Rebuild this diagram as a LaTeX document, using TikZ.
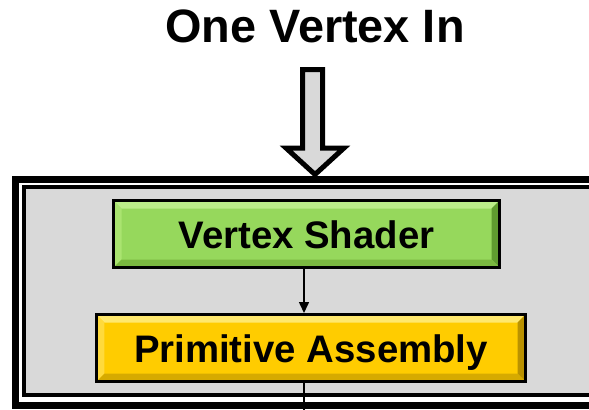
\documentclass[tikz,border=0pt]{standalone}
\usepackage{fontspec}
\setmainfont{Liberation Sans}
\usepackage{tikz}
\usetikzlibrary{positioning,arrows.meta}

\definecolor{panelgray}{RGB}{217,217,217}
\definecolor{vsgreen}{RGB}{150,216,92}
\definecolor{vslight}{RGB}{188,238,138}
\definecolor{vsleft}{RGB}{170,228,112}
\definecolor{vsdark}{RGB}{96,156,48}
\definecolor{vsbottom}{RGB}{122,184,64}
\definecolor{payellow}{RGB}{255,204,0}
\definecolor{palight}{RGB}{255,232,110}
\definecolor{paleft}{RGB}{255,218,60}
\definecolor{padark}{RGB}{186,146,0}
\definecolor{pabottom}{RGB}{214,170,0}

\tikzset{
  stage/.style n args={5}{draw=black, line width=3bp, fill=#1, inner sep=0pt,
    minimum height=67bp, text height=28bp, text depth=0pt,
    font=\fontsize{38.5}{40}\selectfont\bfseries,
    path picture={
      \path (path picture bounding box.north west) coordinate (bnw)
            (path picture bounding box.south east) coordinate (bse);
      \fill[#2] (bnw) -- (bnw -| bse) -- ([shift={(-8bp,-8bp)}]bnw -| bse)
                -- ([shift={(8bp,-8bp)}]bnw) -- cycle;
      \fill[#3] (bnw) -- (bnw |- bse) -- ([shift={(8bp,8bp)}]bnw |- bse)
                -- ([shift={(8bp,-8bp)}]bnw) -- cycle;
      \fill[#4] (bnw -| bse) -- (bse) -- ([shift={(-8bp,8bp)}]bse)
                -- ([shift={(-8bp,-8bp)}]bnw -| bse) -- cycle;
      \fill[#5] (bnw |- bse) -- (bse) -- ([shift={(-8bp,8bp)}]bse)
                -- ([shift={(8bp,8bp)}]bnw |- bse) -- cycle;
    }},
  flow/.style={line width=1.5bp, -{Triangle[width=10bp,length=11bp]}}
}

\begin{document}
\begin{tikzpicture}[x=1bp,y=-1bp]
  \useasboundingbox (0,0) rectangle (589,409);
  \clip (0,0) rectangle (589,409);

  % frame
  \draw[line width=7bp] (15.5,179.5) rectangle (620,405.5);
  \draw[line width=4bp, fill=panelgray] (24,187) rectangle (620,394.5);

  \node[anchor=base, font=\fontsize{47}{50}\selectfont\bfseries] (title) at (315,42) {One Vertex In};

  % big input arrow
  \draw[line width=5bp, fill=panelgray, line join=miter]
    (302.5,69.5) -- (322.5,69.5) -- (322.5,148) -- (344,148) -- (315,174.5)
    -- (286,148) -- (302.5,148) -- cycle;

  \node[stage={vsgreen}{vslight}{vsleft}{vsdark}{vsbottom}, minimum width=386bp] (vs) at (306.5,234) {Vertex Shader};
  \node[stage={payellow}{palight}{paleft}{padark}{pabottom}, minimum width=429bp] (pa) at (311,348) {Primitive Assembly};

  \coordinate (down) at (304,420);
  \draw[flow] (vs.south -| down) -- (pa.north -| down);
  \draw[line width=1.5bp] (pa.south -| down) -- (down);
\end{tikzpicture}
\end{document}
